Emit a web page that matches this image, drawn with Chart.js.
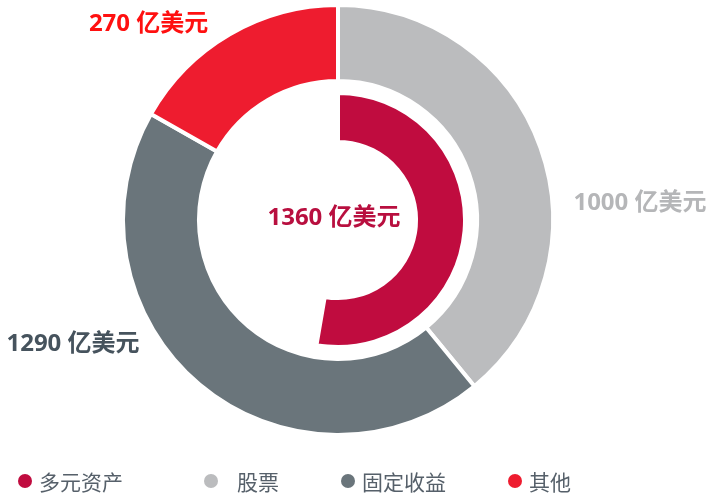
<!DOCTYPE html>
<html>
<head>
<meta charset="utf-8">
<script src="https://cdn.jsdelivr.net/npm/chart.js@4.4.1/dist/chart.umd.min.js"></script>
<style>
  html, body { margin: 0; padding: 0; background: #fff; }
  #wrap { position: relative; width: 721px; height: 493px; }
  #legend {
    position: absolute; left: 18px; top: 469px;
    display: flex; align-items: center;
    font: 21px "Noto Sans CJK SC", "Noto Sans", sans-serif; color: #56606a;
  }
  #legend .item { display: flex; align-items: center; margin-right: 62px; line-height: 24px; }
  #legend .item:first-child { margin-right: 81px; }
  #legend .dot { width: 14px; height: 14px; border-radius: 50%; margin-right: 7px; }
  #legend .item:nth-child(2) .dot { margin-right: 19px; }
</style>
</head>
<body>
<div id="wrap">
  <canvas id="c" width="721" height="493"></canvas>
  <div id="legend"></div>
</div>
<script>
// Asset mix: inner ring = multi-asset share, outer ring = split by asset class.
const categories = ['多元资产', '股票', '固定收益', '其他'];
const colours = ['#c00c3f', '#bbbcbe', '#6a757b', '#ee1c2f'];
// arc sizes as drawn in the picture (the printed labels don't sum the same way)
const outerValues = [0, 1000, 1130, 430];      // 多元资产 not in outer ring
const innerValues = [1360, 0, 0, 0, 1220];     // last one = empty remainder of the ring
// printed amounts, 亿美元
const labelValues = [1360, 1000, 1290, 270];
const unit = ' 亿美元';

// where each printed amount goes (deg clockwise from top, px beyond outer edge)
const labelSpots = [
  { centre: true, colour: '#b80f3f' },
  { angle: 86, gap: 21, align: 'left', colour: '#b5b6b8' },
  { angle: 238, gap: 19, align: 'right', colour: '#46535d' },
  { angle: 326.5, gap: 20, align: 'right', colour: '#ff1010' },
];

const ringLabels = {
  id: 'ringLabels',
  afterDatasetsDraw(chart) {
    const ctx = chart.ctx;
    const ref = chart.getDatasetMeta(0).data[1];
    const cx = ref.x, cy = ref.y, R = ref.outerRadius;
    ctx.save();
    ctx.font = 'bold 24px "Open Sans", "Noto Sans CJK SC", sans-serif';
    ctx.textBaseline = 'middle';
    labelSpots.forEach((s, i) => {
      const txt = labelValues[i] + unit;
      ctx.fillStyle = s.colour;
      if (s.centre) {
        ctx.textAlign = 'center';
        ctx.fillText(txt, cx - 4, cy - 2);
        return;
      }
      const a = s.angle * Math.PI / 180, r = R + s.gap;
      ctx.textAlign = s.align;
      ctx.fillText(txt, cx + r * Math.sin(a), cy - r * Math.cos(a));
    });
    ctx.restore();
  },
};

const chart = new Chart(document.getElementById('c'), {
  type: 'doughnut',
  data: {
    labels: categories,
    datasets: [
      { data: outerValues, backgroundColor: colours, borderColor: '#fff', borderWidth: 4, weight: 76 },
      { data: [1], backgroundColor: 'rgba(0,0,0,0)', borderWidth: 0, weight: 12 },
      {
        data: innerValues,
        backgroundColor: [...colours, 'rgba(0,0,0,0)'],
        borderColor: ['#fff', '#fff', '#fff', '#fff', 'rgba(0,0,0,0)'],
        borderWidth: 4,
        weight: 49,
      },
    ],
  },
  options: {
    responsive: false,
    animation: false,
    cutout: '36.3%',
    hoverOffset: 0,
    layout: { padding: { top: 3, bottom: 56, left: 0, right: 45 } },
    plugins: { legend: { display: false }, tooltip: { enabled: false } },
  },
  plugins: [ringLabels],
});

// legend as html under the canvas
const legend = document.getElementById('legend');
categories.forEach((name, i) => {
  const item = document.createElement('div');
  item.className = 'item';
  const dot = document.createElement('span');
  dot.className = 'dot';
  dot.style.background = colours[i];
  const txt = document.createElement('span');
  txt.textContent = name;
  item.append(dot, txt);
  legend.append(item);
});
</script>
</body>
</html>
